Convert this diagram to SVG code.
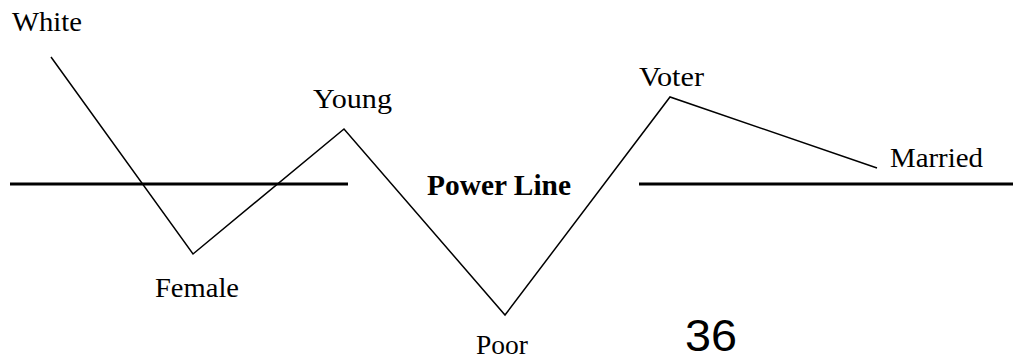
<svg xmlns="http://www.w3.org/2000/svg" width="1013" height="359" viewBox="0 0 1013 359">
  <style>
    .lbl { font-family: "Liberation Serif", "Times New Roman", serif; font-size: 27px; fill: #000; }
    .bold { font-family: "Liberation Serif", "Times New Roman", serif; font-size: 29px; font-weight: bold; fill: #000; }
    .num { font-family: "Liberation Sans", Arial, sans-serif; font-size: 45px; fill: #000; }
    .zig { fill: none; stroke: #000; stroke-width: 1.5; stroke-linejoin: miter; }
    .power { stroke: #000; stroke-width: 3; }
  </style>
  <rect width="1013" height="359" fill="#fff"/>
  <g id="connectors">
    <polyline class="zig" points="51,57 193,254 344,129 505,315 670,97 877,168"/>
  </g>
  <g id="power-line">
    <line class="power" x1="10" y1="184" x2="348" y2="184"/>
    <line class="power" x1="639" y1="184" x2="1013" y2="184"/>
    <text class="bold" x="427" y="195" textLength="144" lengthAdjust="spacingAndGlyphs">Power Line</text>
  </g>
  <g id="node-white"><text class="lbl" x="12" y="31" textLength="70" lengthAdjust="spacingAndGlyphs">White</text></g>
  <g id="node-female"><text class="lbl" x="155" y="297" textLength="84" lengthAdjust="spacingAndGlyphs">Female</text></g>
  <g id="node-young"><text class="lbl" x="313" y="108" textLength="79" lengthAdjust="spacingAndGlyphs">Young</text></g>
  <g id="node-poor"><text class="lbl" x="476" y="354" textLength="52" lengthAdjust="spacingAndGlyphs">Poor</text></g>
  <g id="node-voter"><text class="lbl" x="639" y="86" textLength="65" lengthAdjust="spacingAndGlyphs">Voter</text></g>
  <g id="node-married"><text class="lbl" x="890" y="167" textLength="93" lengthAdjust="spacingAndGlyphs">Married</text></g>
  <g id="page-number"><text class="num" x="685" y="351" textLength="52" lengthAdjust="spacingAndGlyphs">36</text></g>
</svg>
